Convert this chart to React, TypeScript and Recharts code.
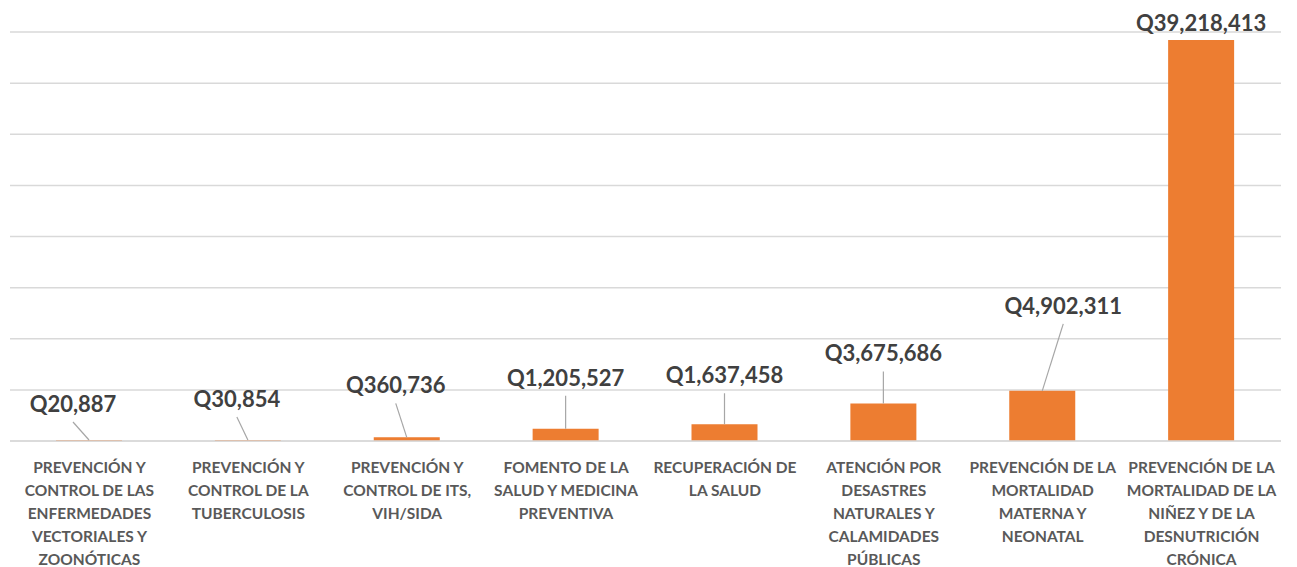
import React from 'react';
import { BarChart, Bar, XAxis, YAxis, CartesianGrid, LabelList } from 'recharts';

const categories = [
  'PREVENCIÓN Y\nCONTROL DE LAS\nENFERMEDADES\nVECTORIALES Y\nZOONÓTICAS',
  'PREVENCIÓN Y\nCONTROL DE LA\nTUBERCULOSIS',
  'PREVENCIÓN Y\nCONTROL DE ITS,\nVIH/SIDA',
  'FOMENTO DE LA\nSALUD Y MEDICINA\nPREVENTIVA',
  'RECUPERACIÓN DE\nLA SALUD',
  'ATENCIÓN POR\nDESASTRES\nNATURALES Y\nCALAMIDADES\nPÚBLICAS',
  'PREVENCIÓN DE LA\nMORTALIDAD\nMATERNA Y\nNEONATAL',
  'PREVENCIÓN DE LA\nMORTALIDAD DE LA\nNIÑEZ Y DE LA\nDESNUTRICIÓN\nCRÓNICA',
];

const amounts = [20887, 30854, 360736, 1205527, 1637458, 3675686, 4902311, 39218413];

const yTicks = [0, 5000000, 10000000, 15000000, 20000000, 25000000, 30000000, 35000000, 40000000];

// callout placement (px, relative to the top centre of each bar), as moved by hand in the original
const labelDx = [-16, -11, -11, 0, 0, 0, 21, 0];
const labelDy = [-36, -41, -52, -51, -49, -50, -85, -17];

const data = categories.map((name, i) => ({ name, amount: amounts[i] }));

const FONT = 'Lato, "Open Sans", sans-serif';

const fmt = (v: number) => 'Q' + v.toLocaleString('en-US');

const CategoryTick = (props: any) => {
  const { x, y, payload } = props;
  const lines = String(payload.value).split('\n');
  return (
    <text x={x} y={y + 24} textAnchor="middle" fill="#595959" fontFamily={FONT} fontWeight={700} fontSize={15.5}>
      {lines.map((l, i) => (
        <tspan key={i} x={x} dy={i === 0 ? 0 : 23}>
          {l}
        </tspan>
      ))}
    </text>
  );
};

const Callout = (props: any) => {
  const { x, y, width, value, index } = props;
  const cx = x + width / 2;
  const lx = cx + labelDx[index];
  const ly = y + labelDy[index];
  const startY = ly + 18;
  const showLine = y - startY > 6;
  return (
    <g>
      {showLine && <line x1={lx} y1={startY} x2={cx} y2={y} stroke="#a6a6a6" strokeWidth={1.2} />}
      <text x={lx} y={ly} dy={8} textAnchor="middle" fill="#404040" fontFamily={FONT} fontWeight={700} fontSize={22}>
        {fmt(value)}
      </text>
    </g>
  );
};

export default function App() {
  return (
    <BarChart
      width={1273}
      height={559}
      data={data}
      margin={{ top: 24, right: 0, bottom: 0, left: 2 }}
    >
      <CartesianGrid vertical={false} stroke="#d9d9d9" strokeWidth={1.5} />
      <YAxis hide domain={[0, 40000000]} ticks={yTicks} />
      <XAxis
        dataKey="name"
        height={126}
        axisLine={{ stroke: '#d9d9d9', strokeWidth: 1.5 }}
        tickLine={false}
        interval={0}
        tick={<CategoryTick />}
      />
      <Bar dataKey="amount" fill="#ED7D31" barSize={66} minPointSize={1} isAnimationActive={false}>
        <LabelList dataKey="amount" content={<Callout />} />
      </Bar>
    </BarChart>
  );
}
